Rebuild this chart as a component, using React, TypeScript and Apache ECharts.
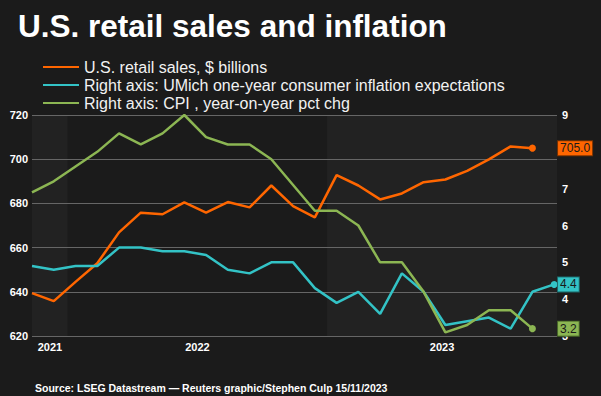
import React, { useEffect, useRef } from 'react';
import * as echarts from 'echarts';

// Monthly observations, Nov 2021 .. Nov 2023
const months = [
  'Nov 2021', 'Dec 2021', 'Jan 2022', 'Feb 2022', 'Mar 2022', 'Apr 2022', 'May 2022', 'Jun 2022',
  'Jul 2022', 'Aug 2022', 'Sep 2022', 'Oct 2022', 'Nov 2022', 'Dec 2022', 'Jan 2023', 'Feb 2023',
  'Mar 2023', 'Apr 2023', 'May 2023', 'Jun 2023', 'Jul 2023', 'Aug 2023', 'Sep 2023', 'Oct 2023',
  'Nov 2023',
];

// U.S. retail sales, $ billions (Nov 2021 .. Oct 2023)
const retailSales = [
  639.4, 635.8, 644.5, 652.9, 666.9, 675.8, 675.1, 680.5, 675.8, 680.6, 678.2, 688.1,
  678.8, 673.7, 692.8, 688.1, 681.8, 684.5, 689.6, 690.8, 694.7, 699.9, 705.8, 705.0,
];

// UMich one-year consumer inflation expectations, % (Nov 2021 .. Nov 2023)
const umichExpectations = [
  4.9, 4.8, 4.9, 4.9, 5.4, 5.4, 5.3, 5.3, 5.2, 4.8, 4.7, 5.0,
  5.0, 4.3, 3.9, 4.2, 3.6, 4.7, 4.2, 3.3, 3.4, 3.5, 3.2, 4.2, 4.4,
];

// CPI, year-on-year pct change (Nov 2021 .. Oct 2023)
const cpiYoY = [
  6.9, 7.2, 7.6, 8.0, 8.5, 8.2, 8.5, 9.0, 8.4, 8.2, 8.2, 7.8,
  7.1, 6.4, 6.4, 6.0, 5.0, 5.0, 4.2, 3.1, 3.3, 3.7, 3.7, 3.2,
];

const seriesNames = [
  'U.S. retail sales, $ billions',
  'Right axis: UMich one-year consumer inflation expectations',
  'Right axis: CPI , year-on-year pct chg',
];

const yearLabels = ['2021', '2022', '2023'];
const leftAxis = { min: 620, max: 720, interval: 20 };
const rightAxis = { min: 3, max: 9, interval: 1 };

// layout
const FONT = "'Liberation Sans', Arial, Helvetica, sans-serif";
const X_MAX = 24.13;
const BAND_EDGES = [0, 1.65, 13.56, X_MAX];
const BAND_COLORS = ['#222222', '#1b1b1b', '#222222'];
const COLORS = ['#ff6600', '#33c3c6', '#8cb653'];
const BORDERS = ['#7a3300', '#1d6d6e', '#4a6a2a'];

export default function App() {
  const ref = useRef<HTMLDivElement>(null);

  useEffect(() => {
    document.body.style.margin = '0';
    document.body.style.background = '#1b1b1b';
    const chart = echarts.init(ref.current as HTMLDivElement, null, { renderer: 'svg' });

    const pairs = (arr: number[]) => arr.map((v, i) => [i, v]);
    const lastIdx = (arr: number[]) => arr.length - 1;

    const marks = (arr: number[], k: number) => ({
      silent: true,
      animation: false,
      data: [
        {
          coord: [lastIdx(arr), arr[lastIdx(arr)]],
          symbol: 'circle',
          symbolSize: 7,
          itemStyle: { color: COLORS[k] },
          label: { show: false },
        },
        {
          coord: [X_MAX, arr[lastIdx(arr)]],
          symbol: 'circle',
          symbolSize: 0.1,
          itemStyle: { color: 'rgba(0,0,0,0)' },
          label: {
            show: true,
            position: 'right',
            distance: 1,
            formatter: arr[lastIdx(arr)].toFixed(1),
            backgroundColor: COLORS[k],
            borderColor: BORDERS[k],
            borderWidth: 1,
            padding: [1, 2, 1, 2],
            color: '#1a1a1a',
            fontSize: 12,
            lineHeight: 12,
            fontFamily: FONT,
          },
        },
      ],
    });

    const yearCenters = yearLabels.map((_, i) => (BAND_EDGES[i] + BAND_EDGES[i + 1]) / 2);

    const lineSeries = (name: string, arr: number[], k: number, yAxisIndex: number) => ({
      name,
      type: 'line',
      yAxisIndex,
      data: pairs(arr),
      symbol: 'none',
      showSymbol: false,
      z: 3,
      lineStyle: { color: COLORS[k], width: 2.5 },
      itemStyle: { color: COLORS[k] },
      markPoint: marks(arr, k),
    });

    chart.setOption({
      animation: false,
      backgroundColor: '#1b1b1b',
      title: {
        text: 'U.S. retail sales and inflation',
        left: 13,
        top: 5,
        textStyle: { color: '#ffffff', fontSize: 31.5, fontWeight: 'bold', fontFamily: FONT },
      },
      legend: {
        data: seriesNames,
        orient: 'vertical',
        left: 38,
        top: 53,
        itemWidth: 36,
        itemHeight: 2,
        itemGap: 0,
        icon: 'rect',
        selectedMode: false,
        textStyle: { color: '#f2f2f2', fontSize: 16, lineHeight: 18, fontFamily: FONT },
      },
      grid: { left: 32, right: 44, top: 115, bottom: 60 },
      xAxis: {
        type: 'value',
        min: 0,
        max: X_MAX,
        axisLine: { show: false },
        axisTick: { show: false },
        splitLine: { show: false },
        axisLabel: {
          customValues: yearCenters,
          formatter: (v: number) => {
            const i = yearCenters.findIndex((c) => Math.abs(c - v) < 1e-6);
            return i >= 0 ? yearLabels[i] : '';
          },
          color: '#ffffff',
          fontWeight: 'bold',
          fontSize: 11,
          fontFamily: FONT,
          margin: 5,
        },
      },
      yAxis: [
        {
          type: 'value',
          position: 'left',
          min: leftAxis.min,
          max: leftAxis.max,
          interval: leftAxis.interval,
          z: 2,
          axisLine: { show: false },
          axisTick: { show: false },
          splitLine: { show: true, lineStyle: { color: '#666666', width: 1 } },
          axisLabel: { color: '#ffffff', fontWeight: 'bold', fontSize: 11, fontFamily: FONT, margin: 4 },
        },
        {
          type: 'value',
          position: 'right',
          min: rightAxis.min,
          max: rightAxis.max,
          interval: rightAxis.interval,
          z: 2,
          axisLine: { show: false },
          axisTick: { show: false },
          splitLine: { show: false },
          axisLabel: { color: '#ffffff', fontWeight: 'bold', fontSize: 11, fontFamily: FONT, margin: 5 },
        },
      ],
      series: [
        {
          name: 'bands',
          type: 'line',
          data: [],
          z: 1,
          silent: true,
          markArea: {
            silent: true,
            data: BAND_COLORS.map((c, i) => [
              { xAxis: BAND_EDGES[i], itemStyle: { color: c } },
              { xAxis: BAND_EDGES[i + 1] },
            ]),
          },
        },
        lineSeries(seriesNames[0], retailSales, 0, 0),
        lineSeries(seriesNames[1], umichExpectations, 1, 1),
        lineSeries(seriesNames[2], cpiYoY, 2, 1),
      ],
      graphic: [
        {
          type: 'text',
          left: 35,
          top: 382,
          style: {
            text: 'Source: LSEG Datastream \u2014 Reuters graphic/Stephen Culp 15/11/2023',
            fill: '#ffffff',
            font: `bold 10.5px ${FONT}`,
          },
        },
      ],
    });

    return () => chart.dispose();
  }, []);

  return <div ref={ref} style={{ width: 601, height: 396 }} data-months={months.length} />;
}
